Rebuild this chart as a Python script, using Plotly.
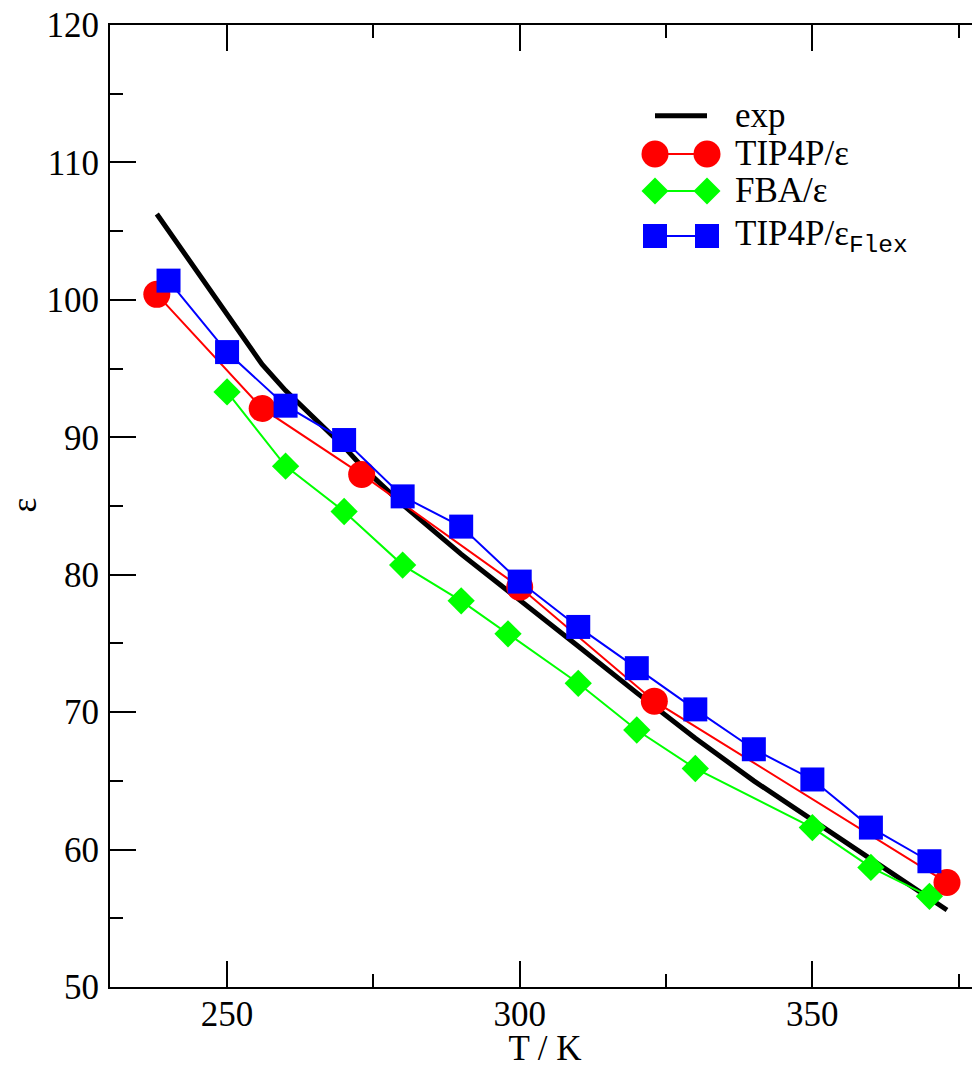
import plotly.graph_objects as go

# ---------------- data ----------------
exp_T = [238, 256, 260, 270, 273, 280, 290, 300, 310, 320, 330, 340, 350, 360, 373]
exp_eps = [106.25, 95.3, 93.4, 89.3, 87.9, 85.1, 81.5, 78.2, 74.8, 71.4, 68.1, 65.0, 62.1, 59.3, 55.6]

tip4p_T = [238, 256, 273, 300, 323, 373]
tip4p_eps = [100.4, 92.1, 87.3, 79.1, 70.8, 57.6]

fba_T = [250, 260, 270, 280, 290, 298, 310, 320, 330, 350, 360, 370]
fba_eps = [93.3, 87.9, 84.6, 80.7, 78.1, 75.7, 72.1, 68.7, 65.9, 61.6, 58.7, 56.6]

flex_T = [240, 250, 260, 270, 280, 290, 300, 310, 320, 330, 340, 350, 360, 370]
flex_eps = [101.4, 96.2, 92.3, 89.8, 85.7, 83.5, 79.5, 76.2, 73.2, 70.2, 67.3, 65.1, 61.6, 59.15]

x_major = [250, 300, 350]
x_minor = [275, 325, 375]
y_major = [50, 60, 70, 80, 90, 100, 110, 120]
y_minor = [55, 65, 75, 85, 95, 105, 115]

x_title = "T / K"
y_title = "ε"
legend_labels = ["exp", "TIP4P/ε",
                 "FBA/ε",
                 "TIP4P/ε<sub><span style='font-family:Liberation Mono'>Flex</span></sub>"]

RED, GREEN, BLUE = "#ff0000", "#00ff00", "#0000ff"
FONT = "Liberation Serif"

# the page body adds an 8px margin, so the figure is laid out 8px smaller
OFF = 8
W, H = 980 - OFF, 1068 - OFF

fig = go.Figure()
fig.add_trace(go.Scatter(x=exp_T, y=exp_eps, mode="lines",
                         line=dict(color="black", width=5), name="exp"))
fig.add_trace(go.Scatter(x=tip4p_T, y=tip4p_eps, mode="lines+markers",
                         line=dict(color=RED, width=2),
                         marker=dict(symbol="circle", size=27, color=RED, line=dict(width=0)),
                         name="TIP4P/ε"))
fig.add_trace(go.Scatter(x=fba_T, y=fba_eps, mode="lines+markers",
                         line=dict(color=GREEN, width=2),
                         marker=dict(symbol="diamond", size=21, color=GREEN, line=dict(width=0)),
                         name="FBA/ε"))
fig.add_trace(go.Scatter(x=flex_T, y=flex_eps, mode="lines+markers",
                         line=dict(color=BLUE, width=2),
                         marker=dict(symbol="square", size=24, color=BLUE, line=dict(width=0)),
                         name="TIP4P/εFlex"))

# ---------------- custom xmgrace-style legend ----------------
# plot-area edges in page pixels
L, R, T, B = 110, 980, 25, 987
def px(x):
    return (x - L) / (R - L)
def py(y):
    return (B - y) / (B - T)

rows = [115.7, 154, 191, 236]
mx = [655, 707]
shapes = []
annotations = []
shapes.append(dict(type="line", xref="paper", yref="paper", x0=px(mx[0]), x1=px(mx[1]),
                   y0=py(rows[0]), y1=py(rows[0]), line=dict(color="black", width=5)))
styles = [(RED, "circle"), (GREEN, "diamond"), (BLUE, "square")]
for (col, sym), ry in zip(styles, rows[1:]):
    shapes.append(dict(type="line", xref="paper", yref="paper", x0=px(mx[0]), x1=px(mx[1]),
                       y0=py(ry), y1=py(ry), line=dict(color=col, width=2)))
    for mxx in mx:
        base = dict(xref="paper", yref="paper", xsizemode="pixel", ysizemode="pixel",
                    xanchor=px(mxx), yanchor=py(ry), fillcolor=col, line=dict(width=0))
        if sym == "circle":
            shapes.append(dict(type="circle", x0=-13.5, x1=13.5, y0=-13.5, y1=13.5, **base))
        elif sym == "square":
            shapes.append(dict(type="rect", x0=-12, x1=12, y0=-12, y1=12, **base))
        else:
            shapes.append(dict(type="path", path="M 0 13.5 L 13.5 0 L 0 -13.5 L -13.5 0 Z", **base))

for lab, ry in zip(legend_labels, rows):
    annotations.append(dict(xref="paper", yref="paper", x=px(733), y=py(ry),
                            xanchor="left", yanchor="middle", text=lab, showarrow=False,
                            font=dict(family=FONT, size=35, color="black")))

# y-axis title placed as a rotated text annotation for exact positioning
annotations.append(dict(xref="paper", yref="paper", x=px(23.5), y=py(505),
                        xanchor="center", yanchor="middle", text=y_title, showarrow=False,
                        textangle=-90, borderpad=0,
                        font=dict(family=FONT, size=35, color="black")))

axis_common = dict(showgrid=False, zeroline=False, ticks="inside", ticklen=26, tickwidth=2,
                   tickcolor="black", ticklabeloverflow="allow",
                   tickfont=dict(family=FONT, size=35, color="black"))

fig.update_layout(
    width=W, height=H,
    margin=dict(l=L - OFF, r=0, t=T - OFF, b=H - (B - OFF)),
    paper_bgcolor="white", plot_bgcolor="white",
    showlegend=False,
    font=dict(family=FONT, color="black"),
    shapes=shapes, annotations=annotations,
    xaxis=dict(range=[230, 378.64], tickmode="array", tickvals=x_major,
               showline=True, linewidth=2, linecolor="black", mirror="ticks",
               minor=dict(tickmode="array", tickvals=x_minor, ticks="inside", ticklen=13,
                          tickwidth=2, tickcolor="black"),
               ticklabelstandoff=-5,
               title=dict(text=x_title, font=dict(family=FONT, size=35), standoff=20),
               automargin=False, **axis_common),
    yaxis=dict(range=[50, 120], tickmode="array", tickvals=y_major,
               showline=True, linewidth=2, linecolor="black", mirror=False,
               minor=dict(tickmode="array", tickvals=y_minor, ticks="inside", ticklen=13,
                          tickwidth=2, tickcolor="black"),
               ticklabelstandoff=2,
               automargin=False, **axis_common),
    yaxis2=dict(range=[50, 120], overlaying="y", side="right", matches="y",
                tickmode="array", tickvals=y_major, showticklabels=False, showline=False,
                minor=dict(tickmode="array", tickvals=y_minor, ticks="inside", ticklen=13,
                           tickwidth=2, tickcolor="black"),
                showgrid=False, zeroline=False, ticks="inside", ticklen=26, tickwidth=2,
                tickcolor="black"),
)

fig.write_html("out.html")
